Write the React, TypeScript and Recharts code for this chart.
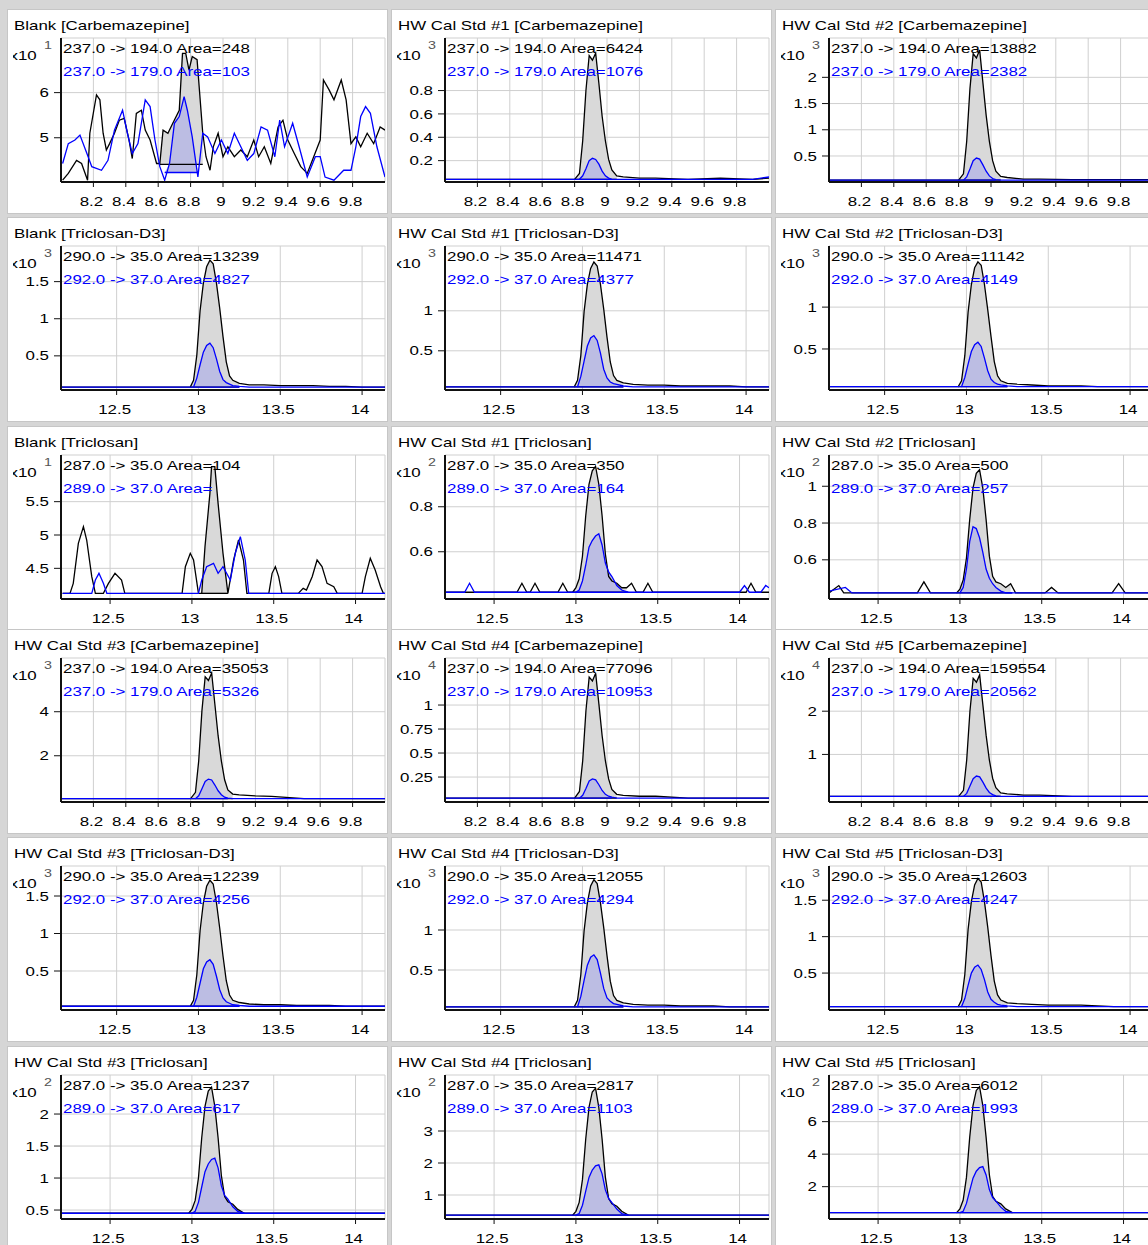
import { Area, CartesianGrid, ComposedChart, Line, XAxis, YAxis } from 'recharts'

// ---- data (retention time in min, intensity in x10^n counts) ----

const CARB_X_TICKS = [8.2, 8.4, 8.6, 8.8, 9, 9.2, 9.4, 9.6, 9.8]
const TRICLOSAN_X_TICKS = [12.5, 13, 13.5, 14]
const carbDomain: [number, number] = [8.0, 10.0]
const d3Domain: [number, number] = [12.16, 14.14]
const tcDomain: [number, number] = [12.2, 14.18]

// Blank [Carbemazepine] – noisy traces
const carbBlankBlackT = [8.01, 8.045, 8.096, 8.127, 8.164, 8.178, 8.219, 8.24, 8.26, 8.28, 8.3, 8.33, 8.36, 8.39, 8.42, 8.44, 8.465, 8.496, 8.52, 8.55, 8.59, 8.61, 8.63, 8.66, 8.69, 8.73, 8.75, 8.77, 8.79, 8.81, 8.84, 8.875, 8.895, 8.92, 8.94, 8.97, 9.0, 9.03, 9.07, 9.11, 9.15, 9.19, 9.22, 9.255, 9.295, 9.34, 9.37, 9.4, 9.44, 9.48, 9.52, 9.56, 9.6, 9.62, 9.655, 9.685, 9.73, 9.76, 9.79, 9.82, 9.85, 9.89, 9.93, 9.97, 10.0]
const carbBlankBlackV = [4.06, 4.21, 4.5, 4.43, 4.06, 5.1, 5.95, 5.84, 5.1, 4.73, 4.87, 5.1, 5.39, 5.43, 4.95, 4.54, 5.54, 5.61, 5.17, 4.95, 4.43, 4.43, 5.17, 5.1, 5.32, 5.61, 6.87, 6.87, 6.5, 6.8, 6.73, 5.1, 4.58, 4.28, 4.8, 5.1, 4.58, 4.8, 4.58, 4.73, 4.58, 4.95, 4.58, 4.8, 4.43, 5.24, 5.39, 4.95, 4.65, 4.36, 4.21, 4.58, 4.95, 6.28, 6.06, 5.84, 6.28, 5.84, 4.87, 5.02, 4.8, 5.1, 4.87, 5.24, 5.17]
const carbBlankBlueT = [8.01, 8.045, 8.086, 8.117, 8.16, 8.19, 8.25, 8.29, 8.33, 8.38, 8.41, 8.44, 8.475, 8.52, 8.55, 8.58, 8.61, 8.64, 8.67, 8.7, 8.73, 8.76, 8.78, 8.81, 8.845, 8.875, 8.905, 8.95, 8.99, 9.03, 9.07, 9.11, 9.15, 9.19, 9.235, 9.275, 9.32, 9.35, 9.38, 9.43, 9.47, 9.52, 9.57, 9.6, 9.63, 9.685, 9.745, 9.79, 9.82, 9.85, 9.88, 9.91, 9.95, 10.0]
const carbBlankBlueV = [4.43, 4.87, 4.95, 5.06, 4.65, 4.36, 4.28, 4.5, 5.17, 5.61, 5.1, 4.65, 4.87, 5.84, 5.69, 4.95, 4.36, 4.06, 4.43, 5.32, 5.47, 5.91, 5.61, 5.02, 4.13, 5.1, 5.02, 4.65, 4.95, 4.65, 5.1, 4.8, 4.5, 4.65, 5.24, 5.17, 4.58, 5.39, 4.8, 5.32, 4.8, 4.13, 4.58, 4.58, 4.13, 4.06, 4.28, 4.28, 4.8, 5.47, 5.69, 5.54, 4.8, 4.13]

// Carbemazepine calibration standards, shared time grid
const carbT = [8.0, 8.4, 8.7, 8.8, 8.83, 8.85, 8.87, 8.89, 8.91, 8.93, 8.95, 8.97, 8.99, 9.01, 9.03, 9.06, 9.1, 9.2, 9.3, 9.5, 9.7, 9.9, 10.0]
const carbStd1Black = [0.04, 0.04, 0.04, 0.04, 0.09, 0.37, 0.8, 1.1, 1.06, 1.12, 0.86, 0.58, 0.37, 0.21, 0.12, 0.07, 0.06, 0.05, 0.05, 0.04, 0.05, 0.04, 0.05]
const carbStd1Blue = [0.04, 0.04, 0.04, 0.04, 0.04, 0.07, 0.13, 0.2, 0.22, 0.21, 0.17, 0.11, 0.07, 0.05, 0.04, 0.04, 0.04, 0.04, 0.04, 0.04, 0.04, 0.04, 0.06]
const carbStd2Black = [0.04, 0.04, 0.04, 0.04, 0.16, 0.78, 1.78, 2.45, 2.37, 2.52, 1.9, 1.28, 0.78, 0.41, 0.21, 0.11, 0.09, 0.06, 0.06, 0.05, 0.05, 0.05, 0.05]
const carbStd2Blue = [0.04, 0.04, 0.04, 0.04, 0.04, 0.1, 0.25, 0.41, 0.46, 0.44, 0.33, 0.21, 0.12, 0.07, 0.05, 0.04, 0.04, 0.04, 0.04, 0.04, 0.04, 0.04, 0.04]
const carbStd3Black = [0.05, 0.05, 0.05, 0.05, 0.34, 1.76, 4.05, 5.59, 5.42, 5.76, 4.33, 2.9, 1.76, 0.91, 0.45, 0.26, 0.22, 0.18, 0.16, 0.05, 0.05, 0.05, 0.05]
const carbStd3Blue = [0.05, 0.05, 0.05, 0.05, 0.05, 0.18, 0.5, 0.83, 0.94, 0.9, 0.67, 0.41, 0.23, 0.12, 0.08, 0.05, 0.05, 0.05, 0.05, 0.05, 0.05, 0.05, 0.05]
const carbStd4Black = [0.03, 0.03, 0.03, 0.03, 0.1, 0.42, 0.94, 1.29, 1.25, 1.33, 1.01, 0.68, 0.42, 0.23, 0.12, 0.07, 0.06, 0.05, 0.05, 0.03, 0.03, 0.03, 0.03]
const carbStd4Blue = [0.03, 0.03, 0.03, 0.03, 0.03, 0.06, 0.13, 0.21, 0.23, 0.22, 0.17, 0.11, 0.07, 0.05, 0.04, 0.03, 0.03, 0.03, 0.03, 0.03, 0.03, 0.03, 0.03]
const carbStd5Black = [0.03, 0.03, 0.03, 0.03, 0.17, 0.87, 2.0, 2.76, 2.67, 2.84, 2.14, 1.44, 0.87, 0.45, 0.23, 0.11, 0.09, 0.06, 0.06, 0.03, 0.03, 0.03, 0.03]
const carbStd5Blue = [0.03, 0.03, 0.03, 0.03, 0.03, 0.1, 0.27, 0.44, 0.5, 0.48, 0.36, 0.22, 0.12, 0.07, 0.04, 0.03, 0.03, 0.03, 0.03, 0.03, 0.03, 0.03, 0.03]

// Triclosan-D3, shared time grid
const d3T = [12.16, 12.5, 12.8, 12.95, 12.97, 12.99, 13.01, 13.03, 13.05, 13.07, 13.09, 13.11, 13.13, 13.15, 13.17, 13.19, 13.21, 13.25, 13.31, 13.4, 13.5, 13.6, 13.7, 13.8, 13.9, 14.0, 14.14]
const d3BlankBlack = [0.08, 0.08, 0.08, 0.08, 0.17, 0.51, 1.11, 1.48, 1.7, 1.79, 1.74, 1.48, 1.14, 0.76, 0.42, 0.23, 0.17, 0.13, 0.11, 0.11, 0.1, 0.1, 0.1, 0.09, 0.09, 0.08, 0.08]
const d3BlankBlue = [0.08, 0.08, 0.08, 0.08, 0.08, 0.2, 0.38, 0.55, 0.64, 0.67, 0.61, 0.46, 0.29, 0.18, 0.14, 0.12, 0.1, 0.09, 0.08, 0.08, 0.08, 0.08, 0.08, 0.08, 0.08, 0.08, 0.08]
const d3Std1Black = [0.05, 0.05, 0.05, 0.05, 0.13, 0.44, 0.99, 1.33, 1.53, 1.61, 1.56, 1.33, 1.02, 0.67, 0.36, 0.19, 0.13, 0.1, 0.08, 0.07, 0.07, 0.06, 0.06, 0.06, 0.06, 0.05, 0.05]
const d3Std1Blue = [0.05, 0.05, 0.05, 0.05, 0.05, 0.18, 0.37, 0.56, 0.66, 0.69, 0.63, 0.47, 0.27, 0.16, 0.11, 0.09, 0.08, 0.06, 0.05, 0.05, 0.05, 0.05, 0.05, 0.05, 0.05, 0.05, 0.05]
const d3Std2Black = [0.05, 0.05, 0.05, 0.05, 0.12, 0.42, 0.94, 1.27, 1.47, 1.54, 1.5, 1.27, 0.97, 0.65, 0.35, 0.18, 0.12, 0.09, 0.08, 0.07, 0.06, 0.06, 0.06, 0.05, 0.05, 0.05, 0.05]
const d3Std2Blue = [0.05, 0.05, 0.05, 0.05, 0.05, 0.16, 0.32, 0.47, 0.55, 0.58, 0.53, 0.39, 0.24, 0.14, 0.1, 0.08, 0.07, 0.06, 0.05, 0.05, 0.05, 0.05, 0.05, 0.05, 0.05, 0.05, 0.05]
const d3Std3Black = [0.03, 0.03, 0.03, 0.03, 0.11, 0.45, 1.04, 1.41, 1.63, 1.71, 1.66, 1.41, 1.07, 0.7, 0.37, 0.18, 0.11, 0.08, 0.06, 0.05, 0.05, 0.04, 0.04, 0.04, 0.03, 0.03, 0.03]
const d3Std3Blue = [0.03, 0.03, 0.03, 0.03, 0.03, 0.15, 0.34, 0.53, 0.62, 0.65, 0.59, 0.43, 0.25, 0.14, 0.09, 0.07, 0.05, 0.04, 0.03, 0.03, 0.03, 0.03, 0.03, 0.03, 0.03, 0.03, 0.03]
const d3Std4Black = [0.04, 0.04, 0.04, 0.04, 0.12, 0.44, 0.99, 1.34, 1.55, 1.63, 1.58, 1.34, 1.03, 0.68, 0.36, 0.18, 0.12, 0.09, 0.07, 0.06, 0.06, 0.05, 0.05, 0.05, 0.04, 0.04, 0.04]
const d3Std4Blue = [0.04, 0.04, 0.04, 0.04, 0.04, 0.17, 0.37, 0.56, 0.66, 0.69, 0.63, 0.46, 0.27, 0.15, 0.11, 0.08, 0.07, 0.05, 0.04, 0.04, 0.04, 0.04, 0.04, 0.04, 0.04, 0.04, 0.04]
const d3Std5Black = [0.04, 0.04, 0.04, 0.04, 0.13, 0.48, 1.1, 1.48, 1.71, 1.8, 1.75, 1.48, 1.13, 0.74, 0.39, 0.2, 0.13, 0.09, 0.08, 0.07, 0.06, 0.06, 0.06, 0.05, 0.04, 0.04, 0.04]
const d3Std5Blue = [0.04, 0.04, 0.04, 0.04, 0.04, 0.15, 0.33, 0.5, 0.58, 0.61, 0.55, 0.41, 0.24, 0.14, 0.1, 0.07, 0.06, 0.05, 0.04, 0.04, 0.04, 0.04, 0.04, 0.04, 0.04, 0.04, 0.04]

// Blank [Triclosan] – small humps
const tcBlankBlackT = [12.21, 12.255, 12.275, 12.306, 12.337, 12.357, 12.388, 12.41, 12.459, 12.49, 12.53, 12.57, 12.59, 12.94, 12.96, 12.99, 13.01, 13.04, 13.06, 13.08, 13.11, 13.12, 13.14, 13.16, 13.19, 13.22, 13.255, 13.285, 13.315, 13.336, 13.47, 13.49, 13.51, 13.53, 13.55, 13.65, 13.68, 13.7, 13.735, 13.765, 13.795, 13.826, 13.867, 13.888, 14.04, 14.06, 14.09, 14.12, 14.153, 14.17, 14.2]
const tcBlankBlackV = [4.125, 4.125, 4.275, 4.875, 5.125, 4.925, 4.375, 4.125, 4.125, 4.275, 4.425, 4.325, 4.125, 4.125, 4.525, 4.725, 4.625, 4.125, 4.125, 4.825, 5.625, 6.025, 6.025, 5.475, 4.725, 4.125, 4.625, 4.925, 4.625, 4.125, 4.125, 4.425, 4.525, 4.375, 4.125, 4.125, 4.2, 4.175, 4.375, 4.625, 4.525, 4.275, 4.225, 4.125, 4.125, 4.375, 4.65, 4.475, 4.225, 4.125, 4.125]
const tcBlankBlueT = [12.21, 12.388, 12.41, 12.432, 12.459, 12.48, 13.04, 13.06, 13.09, 13.132, 13.16, 13.19, 13.235, 13.265, 13.296, 13.326, 13.347, 14.2]
const tcBlankBlueV = [4.125, 4.125, 4.325, 4.425, 4.275, 4.125, 4.125, 4.325, 4.525, 4.575, 4.425, 4.525, 4.325, 4.725, 4.975, 4.625, 4.125, 4.125]

// HW Cal Std #1 / #2 [Triclosan] – peak plus baseline humps
const tcStd1BlackT = [12.2, 12.64, 12.67, 12.7, 12.72, 12.75, 12.78, 12.89, 12.92, 12.95, 12.98, 13.0, 13.02, 13.04, 13.06, 13.08, 13.1, 13.12, 13.14, 13.16, 13.18, 13.2, 13.22, 13.25, 13.28, 13.31, 13.34, 13.37, 13.41, 13.44, 13.47, 14.04, 14.07, 14.1, 14.18]
const tcStd1BlackV = [0.42, 0.42, 0.46, 0.42, 0.42, 0.46, 0.42, 0.42, 0.46, 0.42, 0.42, 0.44, 0.48, 0.58, 0.76, 0.9, 0.96, 0.98, 0.9, 0.76, 0.59, 0.49, 0.47, 0.46, 0.44, 0.44, 0.46, 0.42, 0.42, 0.46, 0.42, 0.42, 0.46, 0.42, 0.42]
const tcStd1BlueT = [12.2, 12.32, 12.35, 12.38, 13.0, 13.02, 13.04, 13.06, 13.08, 13.1, 13.12, 13.14, 13.16, 13.18, 13.2, 13.22, 13.25, 13.28, 13.32, 14.0, 14.03, 14.06, 14.13, 14.16, 14.18]
const tcStd1BlueV = [0.42, 0.42, 0.46, 0.42, 0.42, 0.43, 0.47, 0.54, 0.62, 0.65, 0.67, 0.68, 0.63, 0.55, 0.51, 0.49, 0.45, 0.43, 0.42, 0.42, 0.45, 0.42, 0.42, 0.45, 0.44]
const tcStd2BlackT = [12.2, 12.23, 12.26, 12.29, 12.74, 12.78, 12.82, 12.98, 13.0, 13.02, 13.04, 13.06, 13.08, 13.1, 13.12, 13.14, 13.16, 13.18, 13.2, 13.22, 13.25, 13.28, 13.31, 13.34, 13.52, 13.56, 13.6, 13.93, 13.97, 14.01, 14.18]
const tcStd2BlackV = [0.42, 0.44, 0.46, 0.42, 0.42, 0.48, 0.42, 0.42, 0.44, 0.49, 0.61, 0.82, 0.99, 1.07, 1.09, 0.99, 0.82, 0.62, 0.51, 0.48, 0.47, 0.45, 0.47, 0.42, 0.42, 0.45, 0.42, 0.42, 0.47, 0.42, 0.42]
const tcStd2BlueT = [12.2, 12.3, 12.34, 12.98, 13.0, 13.02, 13.04, 13.06, 13.08, 13.1, 13.12, 13.14, 13.16, 13.18, 13.2, 13.22, 13.25, 13.28, 14.18]
const tcStd2BlueV = [0.43, 0.45, 0.42, 0.42, 0.42, 0.45, 0.55, 0.7, 0.78, 0.77, 0.72, 0.64, 0.55, 0.5, 0.47, 0.45, 0.43, 0.42, 0.42]

// Triclosan calibration standards #3-#5, shared time grid
const tcT = [12.2, 12.5, 12.8, 12.98, 13.0, 13.02, 13.04, 13.06, 13.08, 13.1, 13.12, 13.14, 13.16, 13.18, 13.2, 13.22, 13.25, 13.28, 13.32, 13.4, 13.5, 13.6, 13.7, 13.8, 13.9, 14.0, 14.18]
const tcStd3Black = [0.45, 0.45, 0.45, 0.45, 0.51, 0.65, 1.0, 1.63, 2.12, 2.36, 2.42, 2.12, 1.63, 1.04, 0.71, 0.63, 0.59, 0.51, 0.45, 0.45, 0.45, 0.45, 0.45, 0.45, 0.45, 0.45, 0.45]
const tcStd3Blue = [0.45, 0.45, 0.45, 0.45, 0.45, 0.48, 0.62, 0.86, 1.1, 1.22, 1.29, 1.31, 1.16, 0.88, 0.73, 0.67, 0.55, 0.48, 0.45, 0.45, 0.45, 0.45, 0.45, 0.45, 0.45, 0.45, 0.45]
const tcStd4Black = [0.37, 0.37, 0.37, 0.37, 0.49, 0.77, 1.48, 2.75, 3.74, 4.22, 4.34, 3.74, 2.75, 1.56, 0.89, 0.73, 0.65, 0.49, 0.37, 0.37, 0.37, 0.37, 0.37, 0.37, 0.37, 0.37, 0.37]
const tcStd4Blue = [0.37, 0.37, 0.37, 0.37, 0.37, 0.42, 0.68, 1.12, 1.55, 1.78, 1.91, 1.94, 1.66, 1.16, 0.89, 0.76, 0.56, 0.42, 0.37, 0.37, 0.37, 0.37, 0.37, 0.37, 0.37, 0.37, 0.37]
const tcStd5Black = [0.4, 0.4, 0.4, 0.4, 0.63, 1.18, 2.57, 5.05, 6.99, 7.92, 8.15, 6.99, 5.05, 2.73, 1.41, 1.1, 0.94, 0.63, 0.4, 0.4, 0.4, 0.4, 0.4, 0.4, 0.4, 0.4, 0.4]
const tcStd5Blue = [0.4, 0.4, 0.4, 0.4, 0.4, 0.48, 0.97, 1.76, 2.52, 2.95, 3.17, 3.23, 2.72, 1.82, 1.33, 1.11, 0.74, 0.48, 0.4, 0.4, 0.4, 0.4, 0.4, 0.4, 0.4, 0.4, 0.4]

// ---- panel table ----

type Win = [number, number]

interface PanelDef {
  title: string
  exp: number
  lines: [string, string]
  xDomain: [number, number]
  xTicks: number[]
  yDomain: [number, number]
  yTicks: number[]
  blackT: number[]
  blackV: number[]
  blueT: number[]
  blueV: number[]
  blackWin: Win
  blackBase: number
  blueWin: Win | null
  blueBase: number
}

const CARB_WIN: Win = [8.8, 9.06]
const CARB_BLUE_WIN: Win = [8.83, 9.03]
const D3_WIN: Win = [12.95, 13.25]
const D3_BLUE_WIN: Win = [12.97, 13.25]
const TC_WIN: Win = [12.98, 13.32]
const TC_BLUE_WIN: Win = [13.0, 13.32]

function carb(title: string, exp: number, a: string, b: string, yDomain: [number, number], yTicks: number[], black: number[], blue: number[]): PanelDef {
  return {
    title, exp, lines: [`237.0 -> 194.0 Area=${a}`, `237.0 -> 179.0 Area=${b}`],
    xDomain: carbDomain, xTicks: CARB_X_TICKS, yDomain, yTicks,
    blackT: carbT, blackV: black, blueT: carbT, blueV: blue,
    blackWin: CARB_WIN, blackBase: Math.min(...black), blueWin: CARB_BLUE_WIN, blueBase: Math.min(...blue),
  }
}

function d3(title: string, a: string, b: string, yDomain: [number, number], yTicks: number[], black: number[], blue: number[]): PanelDef {
  return {
    title, exp: 3, lines: [`290.0 -> 35.0 Area=${a}`, `292.0 -> 37.0 Area=${b}`],
    xDomain: d3Domain, xTicks: TRICLOSAN_X_TICKS, yDomain, yTicks,
    blackT: d3T, blackV: black, blueT: d3T, blueV: blue,
    blackWin: D3_WIN, blackBase: Math.min(...black), blueWin: D3_BLUE_WIN, blueBase: Math.min(...blue),
  }
}

function tc(title: string, a: string, b: string, yDomain: [number, number], yTicks: number[], blackT: number[], black: number[], blueT: number[], blue: number[]): PanelDef {
  return {
    title, exp: 2, lines: [`287.0 -> 35.0 Area=${a}`, `289.0 -> 37.0 Area=${b}`],
    xDomain: tcDomain, xTicks: TRICLOSAN_X_TICKS, yDomain, yTicks,
    blackT, blackV: black, blueT, blueV: blue,
    blackWin: TC_WIN, blackBase: Math.min(...black), blueWin: TC_BLUE_WIN, blueBase: Math.min(...blue),
  }
}

const PANELS: PanelDef[][] = [
  [
    {
      title: 'Blank [Carbemazepine]', exp: 1,
      lines: ['237.0 -> 194.0 Area=248', '237.0 -> 179.0 Area=103'],
      xDomain: carbDomain, xTicks: CARB_X_TICKS, yDomain: [4.02, 7.21], yTicks: [5, 6],
      blackT: carbBlankBlackT, blackV: carbBlankBlackV, blueT: carbBlankBlueT, blueV: carbBlankBlueV,
      blackWin: [8.61, 8.875], blackBase: 4.41, blueWin: [8.64, 8.845], blueBase: 4.23,
    },
    carb('HW Cal Std #1 [Carbemazepine]', 3, '6424', '1076', [0.017, 1.25], [0.2, 0.4, 0.6, 0.8], carbStd1Black, carbStd1Blue),
    carb('HW Cal Std #2 [Carbemazepine]', 3, '13882', '2382', [0.004, 2.75], [0.5, 1, 1.5, 2], carbStd2Black, carbStd2Blue),
  ],
  [
    d3('Blank [Triclosan-D3]', '13239', '4827', [0.04, 1.98], [0.5, 1, 1.5], d3BlankBlack, d3BlankBlue),
    d3('HW Cal Std #1 [Triclosan-D3]', '11471', '4377', [0.01, 1.81], [0.5, 1], d3Std1Black, d3Std1Blue),
    d3('HW Cal Std #2 [Triclosan-D3]', '11142', '4149', [0.01, 1.73], [0.5, 1], d3Std2Black, d3Std2Blue),
  ],
  [
    {
      title: 'Blank [Triclosan]', exp: 1,
      lines: ['287.0 -> 35.0 Area=104', '289.0 -> 37.0 Area='],
      xDomain: tcDomain, xTicks: TRICLOSAN_X_TICKS, yDomain: [4.04, 6.2], yTicks: [4.5, 5, 5.5],
      blackT: tcBlankBlackT, blackV: tcBlankBlackV, blueT: tcBlankBlueT, blueV: tcBlankBlueV,
      blackWin: [13.06, 13.22], blackBase: 4.125, blueWin: null, blueBase: 4.125,
    },
    tc('HW Cal Std #1 [Triclosan]', '350', '164', [0.39, 1.03], [0.6, 0.8], tcStd1BlackT, tcStd1BlackV, tcStd1BlueT, tcStd1BlueV),
    tc('HW Cal Std #2 [Triclosan]', '500', '257', [0.387, 1.17], [0.6, 0.8, 1], tcStd2BlackT, tcStd2BlackV, tcStd2BlueT, tcStd2BlueV),
  ],
  [
    carb('HW Cal Std #3 [Carbemazepine]', 3, '35053', '5326', [-0.1, 6.44], [2, 4], carbStd3Black, carbStd3Blue),
    carb('HW Cal Std #4 [Carbemazepine]', 4, '77096', '10953', [-0.01, 1.49], [0.25, 0.5, 0.75, 1], carbStd4Black, carbStd4Blue),
    carb('HW Cal Std #5 [Carbemazepine]', 4, '159554', '20562', [-0.1, 3.23], [1, 2], carbStd5Black, carbStd5Blue),
  ],
  [
    d3('HW Cal Std #3 [Triclosan-D3]', '12239', '4256', [-0.02, 1.9], [0.5, 1, 1.5], d3Std3Black, d3Std3Blue),
    d3('HW Cal Std #4 [Triclosan-D3]', '12055', '4294', [0, 1.8], [0.5, 1], d3Std4Black, d3Std4Blue),
    d3('HW Cal Std #5 [Triclosan-D3]', '12603', '4247', [-0.007, 1.97], [0.5, 1, 1.5], d3Std5Black, d3Std5Blue),
  ],
  [
    tc('HW Cal Std #3 [Triclosan]', '1237', '617', [0.36, 2.61], [0.5, 1, 1.5, 2], tcT, tcStd3Black, tcT, tcStd3Blue),
    tc('HW Cal Std #4 [Triclosan]', '2817', '1103', [0.25, 4.75], [1, 2, 3], tcT, tcStd4Black, tcT, tcStd4Blue),
    tc('HW Cal Std #5 [Triclosan]', '6012', '1993', [0.01, 8.87], [2, 4, 6], tcT, tcStd5Black, tcT, tcStd5Blue),
  ],
]

// ---- layout ----

const PANEL_W = 379
const PANEL_H = 203
const COL_X = [8, 392, 776]
const ROW_Y = [10, 218, 427, 630, 838, 1047]
const FONT = "'Liberation Sans', Arial, sans-serif"
const STRETCH = 1.3
const BLUE = '#0000ff'

const points = (ts: number[], vs: number[]) => ts.map((t, i) => ({ t, v: vs[i] }))

const fillPoints = (ts: number[], vs: number[], win: Win, base: number) =>
  ts
    .map((t, i) => ({ t, r: [base, Math.max(vs[i], base)] }))
    .filter((d) => d.t >= win[0] - 1e-9 && d.t <= win[1] + 1e-9)

const baseLine = (win: Win, base: number) => [
  { t: win[0], v: base },
  { t: win[1], v: base },
]

function XTick(props: any) {
  const { x, y, payload } = props
  return (
    <text
      transform={`translate(${x - 2},${y + 16.5}) scale(${STRETCH},1)`}
      textAnchor="middle"
      fontSize={13}
      fontFamily={FONT}
      fill="#000"
    >
      {String(payload.value)}
    </text>
  )
}

function YTick(props: any) {
  const { x, y, payload } = props
  return (
    <text
      transform={`translate(${x},${y + 4.6}) scale(${STRETCH},1)`}
      textAnchor="end"
      fontSize={13}
      fontFamily={FONT}
      fill="#000"
    >
      {String(payload.value)}
    </text>
  )
}

function Label({ x, y, color = '#000', size = 13, anchor = 'start', children }: any) {
  return (
    <text
      transform={`translate(${x},${y}) scale(${STRETCH},1)`}
      textAnchor={anchor}
      fontSize={size}
      fontFamily={FONT}
      fill={color}
    >
      {children}
    </text>
  )
}

function Panel({ def, left, top, id }: { def: PanelDef; left: number; top: number; id: string }) {
  return (
    <div
      style={{
        position: 'absolute',
        left,
        top,
        width: PANEL_W,
        height: PANEL_H,
        background: '#fff',
        outline: '1px solid #c6c6c6',
      }}
    >
      <ComposedChart width={PANEL_W} height={PANEL_H} margin={{ top: 28, right: 2, bottom: 0, left: 0 }}>
        <CartesianGrid stroke="#cfcfcf" strokeWidth={1} />
        <XAxis
          type="number"
          dataKey="t"
          domain={def.xDomain}
          ticks={def.xTicks}
          allowDataOverflow
          height={31}
          tickSize={5}
          tickMargin={2}
          axisLine={{ stroke: '#111', strokeWidth: 2 }}
          tickLine={{ stroke: '#111' }}
          tick={<XTick />}
        />
        <YAxis
          type="number"
          domain={def.yDomain}
          ticks={def.yTicks}
          allowDataOverflow
          width={53}
          tickSize={7}
          tickMargin={5}
          axisLine={{ stroke: '#111', strokeWidth: 2 }}
          tickLine={{ stroke: '#111' }}
          tick={<YTick />}
        />
        <Area
          data={fillPoints(def.blackT, def.blackV, def.blackWin, def.blackBase)}
          dataKey="r"
          type="linear"
          stroke="none"
          fill="#d9d9d9"
          fillOpacity={1}
          isAnimationActive={false}
        />
        {def.blueWin && (
          <Area
            data={fillPoints(def.blueT, def.blueV, def.blueWin, def.blueBase)}
            dataKey="r"
            type="linear"
            stroke="none"
            fill="#bcbde3"
            fillOpacity={1}
            isAnimationActive={false}
          />
        )}
        <Line
          data={baseLine(def.blackWin, def.blackBase)}
          dataKey="v"
          type="linear"
          stroke="#000"
          strokeWidth={1.3}
          dot={false}
          activeDot={false}
          isAnimationActive={false}
        />
        <Line
          data={points(def.blackT, def.blackV)}
          dataKey="v"
          type="linear"
          stroke="#000"
          strokeWidth={1.3}
          dot={false}
          activeDot={false}
          isAnimationActive={false}
        />
        {def.blueWin && (
          <Line
            data={baseLine(def.blueWin, def.blueBase)}
            dataKey="v"
            type="linear"
            stroke={BLUE}
            strokeWidth={1.3}
            dot={false}
            activeDot={false}
            isAnimationActive={false}
          />
        )}
        <Line
          data={points(def.blueT, def.blueV)}
          dataKey="v"
          type="linear"
          stroke={BLUE}
          strokeWidth={1.3}
          dot={false}
          activeDot={false}
          isAnimationActive={false}
        />
      </ComposedChart>
      <svg
        width={PANEL_W}
        height={PANEL_H}
        style={{ position: 'absolute', left: 0, top: 0, pointerEvents: 'none' }}
      >
        <defs>
          <clipPath id={`x10-${id}`}>
            <rect x={5} y={30} width={40} height={30} />
          </clipPath>
        </defs>
        <Label x={6} y={19.5}>{def.title}</Label>
        <g clipPath={`url(#x10-${id})`}>
          <Label x={1.5} y={49.5}>x10</Label>
        </g>
        <Label x={40} y={39} size={11} color="#555" anchor="middle">{def.exp}</Label>
        <Label x={55} y={42.5}>{def.lines[0]}</Label>
        <Label x={55} y={66} color={BLUE}>{def.lines[1]}</Label>
      </svg>
    </div>
  )
}

export default function App() {
  return (
    <div
      style={{
        position: 'relative',
        width: 1148,
        height: 1245,
        overflow: 'hidden',
        background: '#d6d6d6',
      }}
    >
      <style>{'body{margin:0;}'}</style>
      {PANELS.map((row, r) =>
        row.map((def, c) => (
          <Panel key={`${r}-${c}`} id={`${r}-${c}`} def={def} left={COL_X[c]} top={ROW_Y[r]} />
        )),
      )}
    </div>
  )
}
